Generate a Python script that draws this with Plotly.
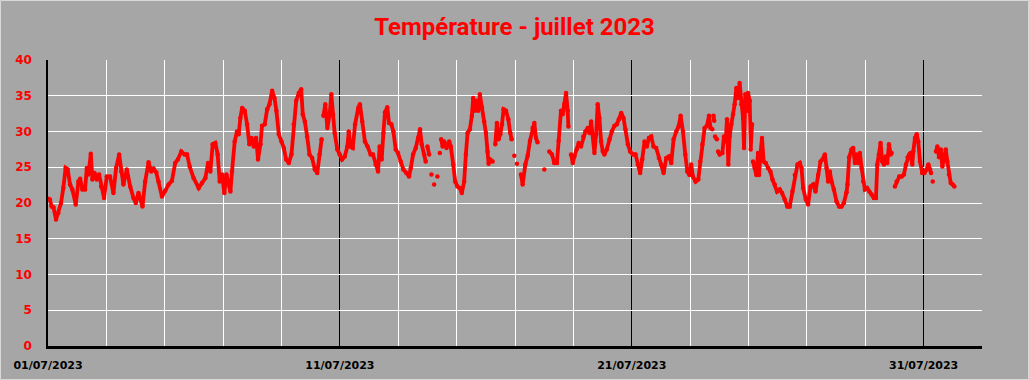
import pandas as pd
import plotly.graph_objects as go

# hours since 2023-07-01 00:00 and temperatures (°C); None = missing data
hours = [0, 1.5, 3, 4.5, 6.6, 8.5, 10.7, 12.6, 14.5, 16.2, 18.1, 20, 22.8, 25, 26.4, 28.3, 30.5, 31.9, 33.2, 35.2,
         36.5, 38.2, 40.1, 42, 43.7, 46.1, 48.3, 51, 53.8, 56, 58.5, 60.2, 62, 64.8, 67.6, 70.3, 72.2, 74.4, 77.7, 79.9,
         82.7, 84.9, 86.8, 89, 90.9, 93.7, 96.4, 99.2, 101.9, 104.6, 106.8, 109.6, 112.3, 114.3, 116.5, 119.7, 123.9, 126.6, 129.4, 131.6,
         133.5, 135.4, 137.6, 139.5, 141.2, 143.1, 145, 146.7, 148.6, 150, 151.3, 153.5, 155.4, 156.8, 158.2, 159.6, 161.8, 163.7, 165.6, 167.3,
         169.2, 171.1, 172.7, 174.7, 176, 178.2, 180.2, 182.1, 184.3, 186.2, 187.8, 189.8, 192, 193.9, 195.8, 198, 200.2, 202.1, 204.1, 206.3,
         208.2, 209.5, 211.2, 213.1, 215, 217.2, 219.4, 221.4, 223.3, 225, 225.7, 226.5, 228, 229.7, 231.6, 233, 234.3, 235.7, 237.9, 239.8,
         241.8, 244, 246.2, 247.3, 248.6, 250.6, 252.5, 255.1, 256.5, 258.4, 260.6, 262.8, 265.3, 267.2, 269.4, 271.4, 272.7, 274.4, 275.8, 277.1,
         279, 280.4, 282.3, 284, 285.9, 287.8, 290, 292.2, 294.7, 296.9, 298.3, 300.2, 302.4, 304.3, 305.9, 307.3, 309.3, 310.6, 311.3, 312,
         313.4, 314.4, 315.3, 316.4, 317.5, 318.9, 320.2, 321.2, 322.2, 322.8, 323.3, 324.5, 325.7, 327.7, 329.9, 331.2, 333.2, 334.8, 336.7, 338.6,
         340.3, 342.2, 343.6, 345, 346.9, 348.5, 349.6, 351, 352.4, 353.8, 355.1, 356.8, 358.7, 360.1, 361.4, 362.3, 363.6, 365.6, 366.7, 367.8,
         369.1, 370.5, 371.9, 373.3, 374.6, 376.6, 378.5, 380.1, 381.2, 382.3, 383.4, 384.5, 385.6, 387.2, 388.9, 390.3, 392.5, 394.4, 396.3, 398.5,
         399.9, 401.2, 402.5, 405, 408.1, 410, 412.2, 414.4, 416.3, 418.5, 419.9, 421.8, 423.2, 424.6, 426, 427.3, 427.9, 429, 430.1, 431.5,
         432.8, 434.7, 436.4, 438.3, 440.2, 441.9, 443.8, 445.2, 446.6, 447.9, 449.3, 450.7, 452, 453.4, 454.8, 456.2, 457.5, 459.5, 461.7, 463.6,
         465.8, 467.7, 469.4, 471.3, 473.2, 474.8, 476.8, 478.7, 480.9, 483.1, 485, 486.9, 488.6, 490.5, 492.4, 494.1, 496, 497.9, 500.1, 502.3,
         504.2, 506.2, 508.4, 510.6, 512.5, 514.4, 516.6, 518.5, 520.2, 522.1, 524, 525.7, 527.5, 528.9, 530.3, 532.5, 534.7, 536.3, 538, 539.9,
         541.8, 543.5, 544.8, 546.2, 546.7, 547.2, 547.8, 548.1, 548.5, 550, 550.5, 551, 552.3, 554.5, 555.8, 557.2, 558.3, 559.4, 560.5, 561.9,
         563.3, 564.6, 566, 567.4, 568.7, 570.1, 571.5, 572.3, 573.4, 574.8, 575.6, 577, 577.8, 578.9, 579.3, 579.7, 581.1, 582.5, 583.8, 584.7,
         585.8, 587.1, 588.5, 590.2, 592.1, 594, 595.7, 597.6, 599.5, 601.7, 603.6, 605.8, 608, 609.9, 612.1, 614.1, 616.3, 618.2, 619.6, 620.9,
         623.1, 625, 627, 629.2, 631.1, 633.3, 635.2, 636.9, 638.8, 640.2, 641.5, 642.9, 644.3, 646.2, 648.4, 650.6, 652.5, 654.4, 656.6, 657.4,
         658.8, 660.7, 662.1, 663.5, 664.8, 666.2, 667.6, 669, 670.3, 671.7, 673.6, 675.3, 677.2, 679.1, 680.8, 681.9, 683.2, 684.6, 686, 687.4,
         688.7, 690.1, 691.5, 692.9, 693.7, 695, 696.4, 697.8, 700, 701.9, 703.8, 705.5, 706.9, 708.2, 709.3, 710.7, 711.5, 712.9, 714.3, 715.6,
         717, 718.9, 720.6, 722.5, 723.9, 725.3, 726.1, 726.8, 727.5, 729, 730.2, 731.3, 732.7, 734.1, 735.4, 736.8, 738.2, 739.5, 740.9, 742.3,
         743.9, 745.3]

temps = [20.6, 20.5, 19.5, 19.4, 17.7, 18.6, 20, 22.1, 24.9, 24.7, 22.6, 21.9, 19.8, 23, 23.4, 21.9, 21.9, 24.9, 24, 26.9,
         23.3, 24.2, 23.3, 24, 22.3, 20.7, 23.7, 23.7, 21.4, 24.9, 26.8, 24.4, 22.6, 24.7, 22.3, 20.7, 20, 21.4, 19.5, 23,
         25.7, 24.4, 24.8, 24.3, 23, 20.9, 21.7, 22.6, 23.1, 25.6, 26.1, 27.2, 26.8, 26.8, 25.1, 23.5, 22.1, 22.8, 23.5, 25.6,
         24.4, 28.2, 28.4, 26.8, 23, 24, 21.4, 24, 22.6, 21.6, 24.4, 28.6, 30, 29.6, 31.9, 33.3, 32.9, 31, 28.2, 29.1,
         27.9, 29.1, 26.1, 28.2, 30.8, 31, 33.1, 33.8, 35.7, 34.7, 32.9, 29.6, 28.6, 27.7, 26.1, 25.6, 26.8, 31, 34.3, 35.4,
         35.9, 32.4, 31.4, 29.3, 26.8, 26.3, 24.7, 24.2, 26.8, 28.9, None, 32.2, 33.8, 30.5, 32.4, 35.2, 32.4, 29.8, 27.5, 26.8,
         26.1, 26.5, 27.9, 30, 27.9, 27.7, 31, 33.3, 33.8, 31.4, 28.6, 27.9, 26.8, 26.8, 25.4, 24.4, 27.9, 26.1, 29.8, 32.7,
         33.4, 31.2, 31, 30, 27.5, 27, 25.8, 24.7, 24.2, 23.7, 24.9, 26.8, 27.7, 29.1, 30.3, 28.2, 26.8, 25.8, None, 27.9,
         26.8, None, 24, None, 22.6, None, 23.7, None, 27, None, 28.9, 27.9, 28.6, 27.7, 28.6, 27.9, 25.4, 23, 22.3, 22.1,
         21.4, 23, 26.8, 29.8, 30.3, 32.2, 34.7, 32.9, 34.3, 32.9, 35.2, 33.4, 31.4, 29.8, 27.2, 25.5, 26.1, 25.8, None, 28.2,
         31.2, 28.9, 29.6, 31, 33.1, 32.9, 31.7, 29.8, 28.9, None, 26.6, None, 25.5, None, 24, 22.6, 25.4, 26.6, 28.7, 30.5,
         31.2, 29.1, 28.5, None, 24.7, None, 27.2, 26.8, 25.6, 25.6, 28.7, 32.9, 32.4, 33.8, 35.4, 32.9, 30.7, None, 26.8, 25.6,
         26.5, 27.5, 28.4, 27.9, 29.3, 30, 30.5, 29.8, 31.4, 29.6, 27, 29.6, 33.8, 31.9, 28.6, 27.2, 26.8, 27.5, 28.9, 30,
         30.8, 31, 31.7, 32.6, 31.9, 30.3, 28.2, 27.2, 26.8, 26.8, 25.4, 24.2, 26.1, 28.6, 27.9, 29.1, 29.3, 27.9, 27.7, 26.3,
         25.4, 24.2, 26.3, 26.5, 25.6, 28.9, 30, 30.7, 32.2, 30, 26.8, 24.4, 23.9, 25.4, 23.7, 23, 23.3, 25.8, 28.2, 30.5,
         30.8, 32.2, 30.5, 30.3, None, 32.2, 31.5, None, 29.3, 28.9, None, 27.2, 26.8, 27, 29.3, 28.6, 31.7, 25.4, 29.3, 31,
         32.4, 33.8, 36.1, 34.7, 36.8, 33.8, 31.9, 27.7, 35.2, 32.9, 35.4, 34.3, 27.5, 31, None, 25.8, 24.9, 23.9, 27, 23.9,
         26.8, 29.1, 25.8, 25.6, 24.9, 24.4, 23.3, 22.6, 21.6, 21.9, 21.4, 20.5, 19.5, 19.5, 21.6, 23.9, 25.4, 25.6, 24.9, 22.1,
         20.5, 19.8, 22.3, 22.6, 21.6, 23.9, 25.8, 26.1, 26.8, 24.9, 23, 24.4, 23, 21.9, 20.2, 19.5, 19.5, 20, 21.5, 22.6,
         26.4, 27.5, 27.7, 25.6, 26.8, 25.6, 27, 24.9, 23, 21.9, 22.1, 21.6, 21.2, 20.7, 20.7, 25.4, 26.8, 28.4, 25.8, 25.4,
         26.5, 25.6, 28.2, 26.8, 27, None, 22.3, 23, 23.7, 23.7, 24, 25.4, 26.4, 26.8, 27, 25.4, 27.2, 29.1, 29.6, 28.6,
         25.8, 24.2, 24.2, 24.7, 25.4, 24.7, 24.2, None, 23, None, 27.2, 27.9, 26.4, 27.5, 25.1, 26.4, 27.5, 25.8, 24, 22.8,
         22.6, 22.3]

tick_dates = ["2023-07-01", "2023-07-11", "2023-07-21", "2023-07-31"]
tick_labels = ["01/07/2023", "11/07/2023", "21/07/2023", "31/07/2023"]
y_ticks = [0, 5, 10, 15, 20, 25, 30, 35, 40]

start = pd.Timestamp("2023-07-01")
x = [start + pd.Timedelta(hours=h) for h in hours]

BG = "#A6A6A6"
fig = go.Figure()
fig.add_trace(go.Scatter(
    x=x, y=temps, mode="lines+markers", connectgaps=False,
    line=dict(color="#FF0000", width=3.8),
    marker=dict(color="#FF0000", size=4.5),
    showlegend=False, hoverinfo="x+y"))

fig.update_layout(
    width=1029, height=380,
    paper_bgcolor=BG, plot_bgcolor=BG,
    margin=dict(l=48, r=47, t=60, b=34, autoexpand=False),
    title=dict(text="<b>Température - juillet 2023</b>", x=0.5, xanchor="center",
               y=1 - 27 / 380, yanchor="middle", yref="container",
               font=dict(family="Roboto, sans-serif", size=24, color="#FF0000")),
    xaxis=dict(type="date", range=["2023-07-01", "2023-08-02"], automargin=False,
               tickvals=tick_dates, ticktext=tick_labels,
               showgrid=True, gridcolor="black", gridwidth=1,
               minor=dict(dtick=2 * 86400000, tick0="2023-07-01", showgrid=True,
                          gridcolor="white", gridwidth=1),
               showline=True, linecolor="black", linewidth=2.5,
               ticks="", ticklabelstandoff=7, zeroline=False,
               tickfont=dict(family="DejaVu Sans, Verdana, sans-serif", size=11, color="black", weight="bold")),
    yaxis=dict(range=[0, 40], tickvals=y_ticks, showgrid=True, gridcolor="white", gridwidth=1,
               automargin=False,
               showline=True, linecolor="black", linewidth=1.5, zeroline=False,
               ticks="", ticklabelstandoff=12,
               tickfont=dict(family="DejaVu Sans, Verdana, sans-serif", size=12, color="#FF0000", weight="bold")),
)
fig.add_shape(type="rect", xref="paper", yref="paper", x0=-47.5/934, x1=1+46.5/934, y0=-33.5/286, y1=1+59.5/286,
              line=dict(color="#D9D9D9", width=1), layer="below")

fig.write_html("out.html", config={"displayModeBar": False},
               post_script="document.body.style.margin='0';document.body.style.overflow='hidden';")
